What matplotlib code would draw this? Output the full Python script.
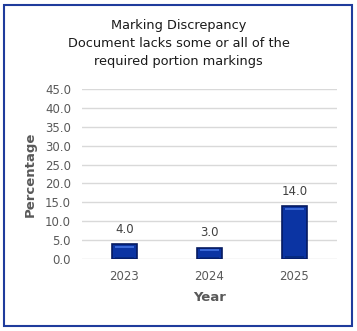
import matplotlib.pyplot as plt
from matplotlib.patches import Rectangle

years = ['2023', '2024', '2025']
values = [4.0, 3.0, 14.0]
yticks = [0, 5, 10, 15, 20, 25, 30, 35, 40, 45]

W, H = 357, 331
fig = plt.figure(figsize=(W / 100, H / 100), dpi=100)
ax = fig.add_axes([82 / W, 1 - 259 / H, 255 / W, 170 / H])

x = range(len(years))
bw = 0.3
ax.bar(x, values, width=bw, color='#0b34a3', edgecolor='#061a60', linewidth=1.2, zorder=3)
# bevel highlight on top and darker base
for i, v in zip(x, values):
    ax.bar(i, min(0.6, v * 0.15), bottom=v - min(1.1, v * 0.3), width=bw * 0.72,
           color='#3a68d6', linewidth=0, zorder=4)
    ax.bar(i, min(0.5, v * 0.1), bottom=0.25, width=bw * 0.72,
           color='#072a80', linewidth=0, zorder=4)
    ax.text(i, v + 2.2, f'{v:.1f}', ha='center', va='bottom', fontsize=8.5, color='#404040')

ax.set_xlim(-0.5, len(years) - 0.5)
ax.set_ylim(0, 45)
ax.set_yticks(yticks)
ax.set_yticklabels([f'{t:.1f}' for t in yticks])
ax.set_xticks(list(x))
ax.set_xticklabels(years)
ax.tick_params(length=0, labelsize=8.5, labelcolor='#595959', pad=8)
ax.tick_params(axis='x', pad=8)
ax.yaxis.grid(True, color='#d9d9d9', linewidth=1, zorder=0)
for s in ax.spines.values():
    s.set_visible(False)

ax.set_ylabel('Percentage', fontsize=9.5, fontweight='bold', color='#595959', labelpad=6)
ax.set_xlabel('Year', fontsize=9.5, fontweight='bold', color='#595959', labelpad=6)

fig.text(0.5, 1 - 43.5 / H, 'Marking Discrepancy\nDocument lacks some or all of the\nrequired portion markings',
         ha='center', va='center', fontsize=9.3, color='#1a1a1a', linespacing=1.55)

fig.patches.append(Rectangle((4 / W, 5 / H), 348 / W, 321 / H, transform=fig.transFigure,
                             fill=False, edgecolor='#1f3c9c', linewidth=1.5))

fig.savefig('out.png', dpi=100)
